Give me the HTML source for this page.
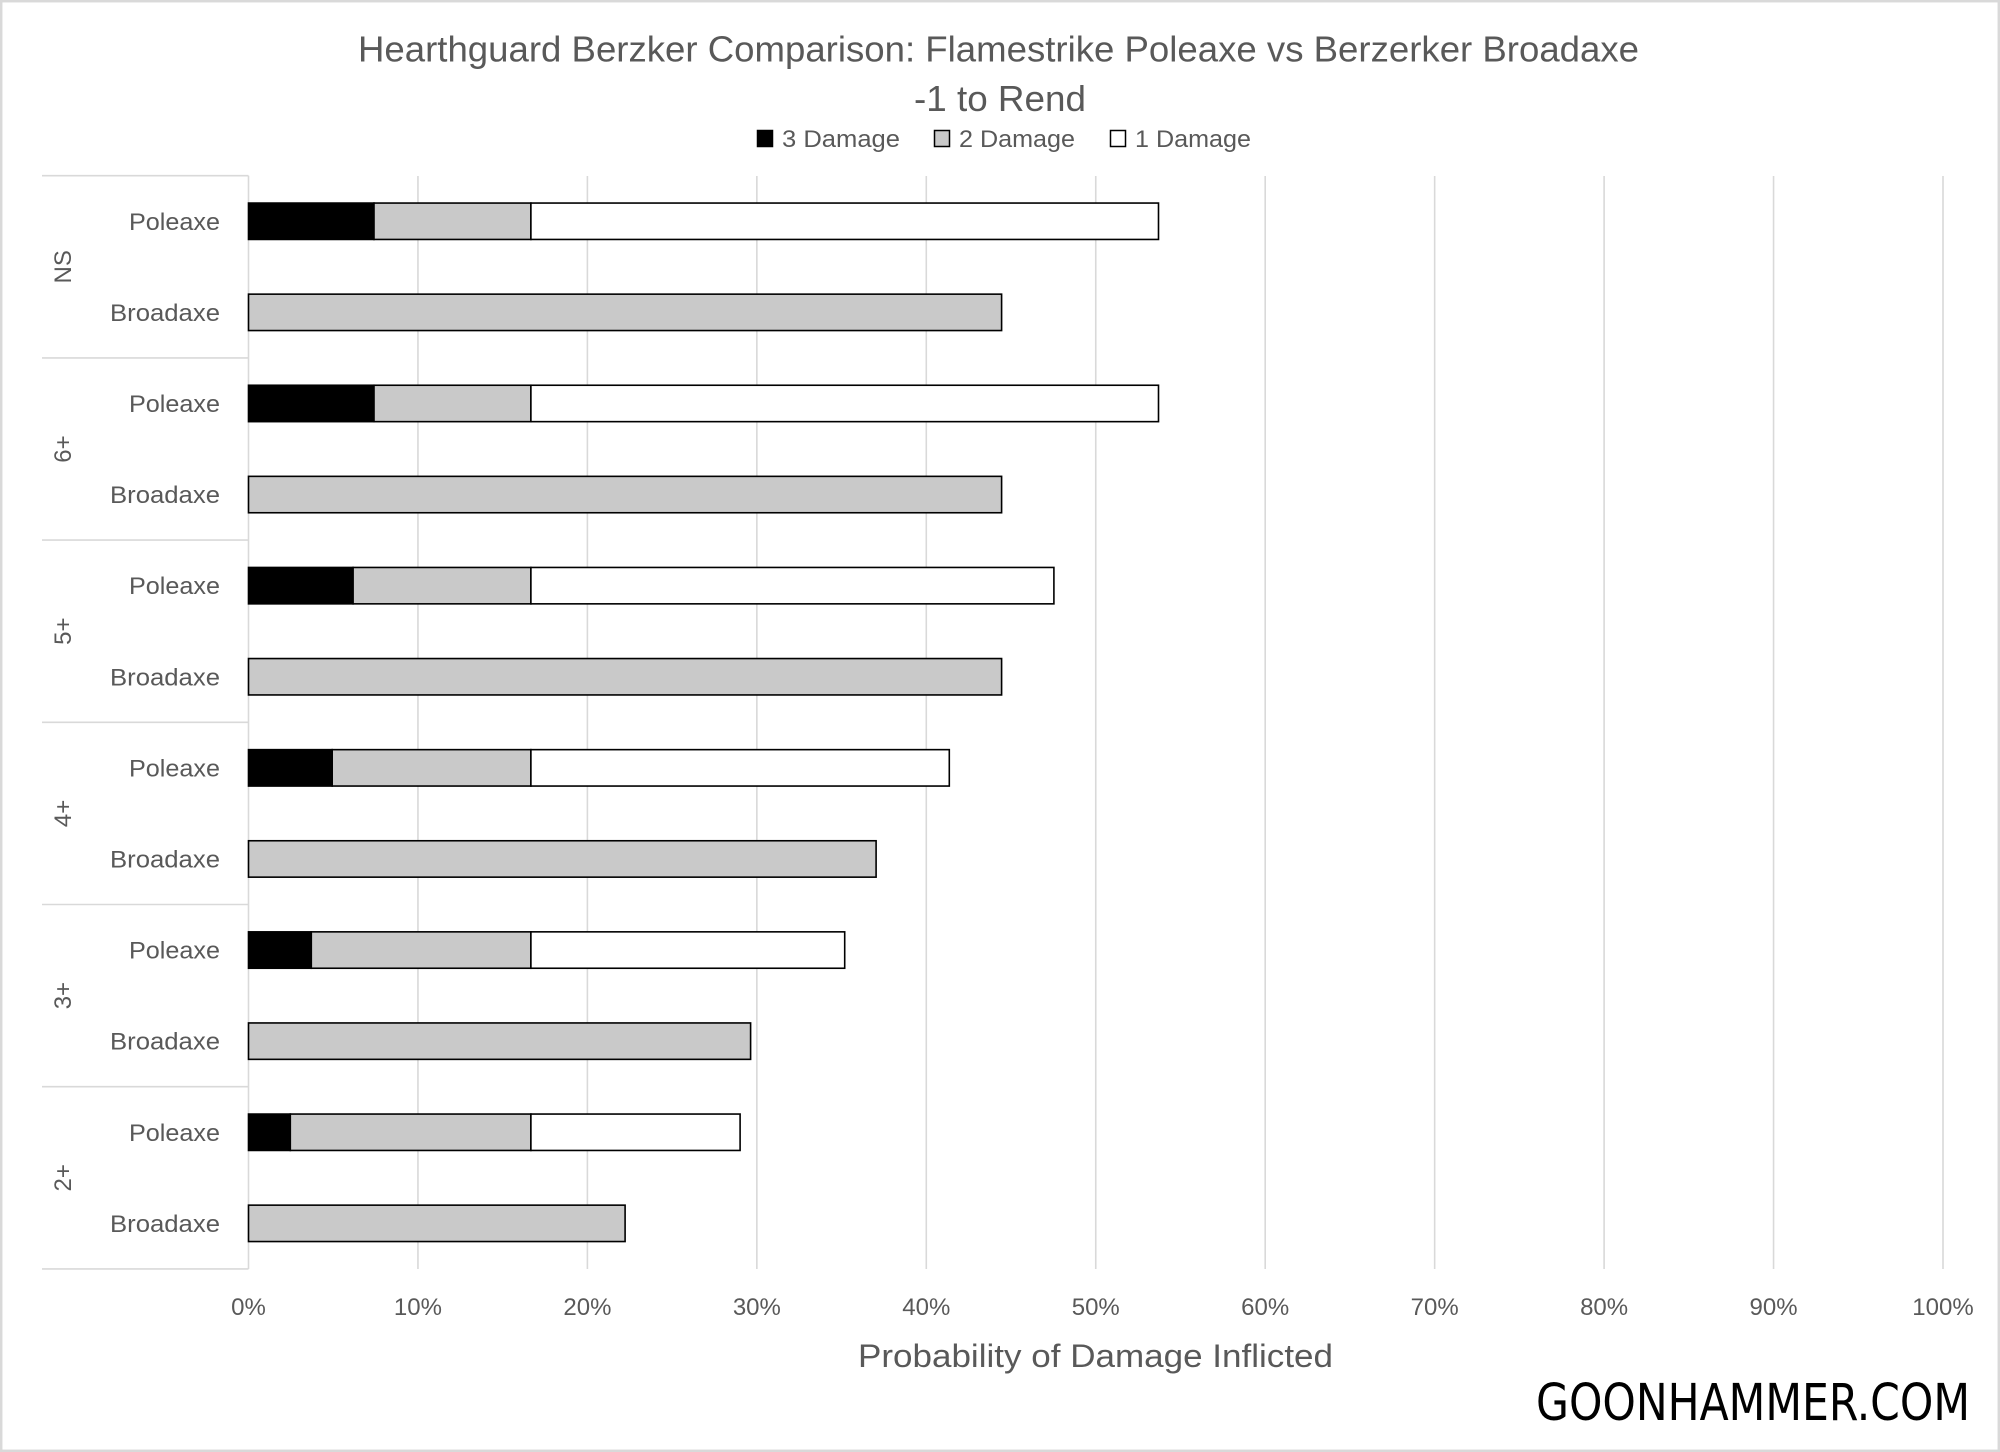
<!DOCTYPE html>
<html><head><meta charset="utf-8"><style>
html,body{margin:0;padding:0;background:#fff;}
svg{display:block;}
text{font-family:"Liberation Sans",sans-serif;fill:#595959;}
</style></head><body>
<svg width="2000" height="1452" viewBox="0 0 2000 1452" xmlns="http://www.w3.org/2000/svg">
<rect x="0" y="0" width="2000" height="1452" fill="#fff"/>
<rect x="1.2" y="1.2" width="1997.6" height="1449.6" fill="none" stroke="#d9d9d9" stroke-width="2.5"/>

<!-- Title -->
<text x="998.5" y="61.7" font-size="36" text-anchor="middle" textLength="1281" lengthAdjust="spacingAndGlyphs">Hearthguard Berzker Comparison: Flamestrike Poleaxe vs Berzerker Broadaxe</text>
<text x="1000" y="111" font-size="36" text-anchor="middle" textLength="172" lengthAdjust="spacingAndGlyphs">-1 to Rend</text>

<!-- Legend -->
<rect x="757.5" y="130.5" width="15" height="16" fill="#000" stroke="#000" stroke-width="1.5"/>
<text x="782" y="147" font-size="24" textLength="118" lengthAdjust="spacingAndGlyphs">3 Damage</text>
<rect x="934.5" y="130.5" width="15" height="16" fill="#c9c9c9" stroke="#000" stroke-width="1.5"/>
<text x="959" y="147" font-size="24" textLength="116" lengthAdjust="spacingAndGlyphs">2 Damage</text>
<rect x="1110.5" y="130.5" width="15" height="16" fill="#fff" stroke="#000" stroke-width="1.5"/>
<text x="1135" y="147" font-size="24" textLength="116" lengthAdjust="spacingAndGlyphs">1 Damage</text>

<!-- Gridlines -->
<g stroke="#d9d9d9" stroke-width="1.6">
<line x1="417.95" y1="176" x2="417.95" y2="1269"/>
<line x1="587.4" y1="176" x2="587.4" y2="1269"/>
<line x1="756.85" y1="176" x2="756.85" y2="1269"/>
<line x1="926.3" y1="176" x2="926.3" y2="1269"/>
<line x1="1095.75" y1="176" x2="1095.75" y2="1269"/>
<line x1="1265.2" y1="176" x2="1265.2" y2="1269"/>
<line x1="1434.65" y1="176" x2="1434.65" y2="1269"/>
<line x1="1604.1" y1="176" x2="1604.1" y2="1269"/>
<line x1="1773.55" y1="176" x2="1773.55" y2="1269"/>
<line x1="1943" y1="176" x2="1943" y2="1269"/>
<!-- axis + category separators -->
<line x1="248.5" y1="175.7" x2="248.5" y2="1269"/>
<line x1="42" y1="175.7" x2="248.5" y2="175.7"/>
<line x1="42" y1="357.9" x2="248.5" y2="357.9"/>
<line x1="42" y1="540.1" x2="248.5" y2="540.1"/>
<line x1="42" y1="722.3" x2="248.5" y2="722.3"/>
<line x1="42" y1="904.5" x2="248.5" y2="904.5"/>
<line x1="42" y1="1086.7" x2="248.5" y2="1086.7"/>
<line x1="42" y1="1268.9" x2="248.5" y2="1268.9"/>
</g>

<!-- Bars -->
<g stroke="#000" stroke-width="1.6">
<!-- NS -->
<rect x="248.5" y="203.05" width="125.5" height="36.4" fill="#000"/>
<rect x="374" y="203.05" width="156.9" height="36.4" fill="#c9c9c9"/>
<rect x="530.9" y="203.05" width="627.6" height="36.4" fill="#fff"/>
<rect x="248.5" y="294.15" width="753.1" height="36.4" fill="#c9c9c9"/>
<!-- 6+ -->
<rect x="248.5" y="385.25" width="125.5" height="36.4" fill="#000"/>
<rect x="374" y="385.25" width="156.9" height="36.4" fill="#c9c9c9"/>
<rect x="530.9" y="385.25" width="627.6" height="36.4" fill="#fff"/>
<rect x="248.5" y="476.35" width="753.1" height="36.4" fill="#c9c9c9"/>
<!-- 5+ -->
<rect x="248.5" y="567.45" width="104.6" height="36.4" fill="#000"/>
<rect x="353.1" y="567.45" width="177.8" height="36.4" fill="#c9c9c9"/>
<rect x="530.9" y="567.45" width="523" height="36.4" fill="#fff"/>
<rect x="248.5" y="658.55" width="753.1" height="36.4" fill="#c9c9c9"/>
<!-- 4+ -->
<rect x="248.5" y="749.65" width="83.7" height="36.4" fill="#000"/>
<rect x="332.2" y="749.65" width="198.7" height="36.4" fill="#c9c9c9"/>
<rect x="530.9" y="749.65" width="418.4" height="36.4" fill="#fff"/>
<rect x="248.5" y="840.75" width="627.6" height="36.4" fill="#c9c9c9"/>
<!-- 3+ -->
<rect x="248.5" y="931.85" width="62.8" height="36.4" fill="#000"/>
<rect x="311.3" y="931.85" width="219.6" height="36.4" fill="#c9c9c9"/>
<rect x="530.9" y="931.85" width="313.8" height="36.4" fill="#fff"/>
<rect x="248.5" y="1022.95" width="502.1" height="36.4" fill="#c9c9c9"/>
<!-- 2+ -->
<rect x="248.5" y="1114.05" width="41.8" height="36.4" fill="#000"/>
<rect x="290.3" y="1114.05" width="240.6" height="36.4" fill="#c9c9c9"/>
<rect x="530.9" y="1114.05" width="209.2" height="36.4" fill="#fff"/>
<rect x="248.5" y="1205.15" width="376.6" height="36.4" fill="#c9c9c9"/>
</g>

<!-- Category labels -->
<g font-size="24" text-anchor="end">
<text x="220" y="229.75" textLength="91" lengthAdjust="spacingAndGlyphs">Poleaxe</text>
<text x="220" y="320.85" textLength="110" lengthAdjust="spacingAndGlyphs">Broadaxe</text>
<text x="220" y="411.95" textLength="91" lengthAdjust="spacingAndGlyphs">Poleaxe</text>
<text x="220" y="503.05" textLength="110" lengthAdjust="spacingAndGlyphs">Broadaxe</text>
<text x="220" y="594.15" textLength="91" lengthAdjust="spacingAndGlyphs">Poleaxe</text>
<text x="220" y="685.25" textLength="110" lengthAdjust="spacingAndGlyphs">Broadaxe</text>
<text x="220" y="776.35" textLength="91" lengthAdjust="spacingAndGlyphs">Poleaxe</text>
<text x="220" y="867.45" textLength="110" lengthAdjust="spacingAndGlyphs">Broadaxe</text>
<text x="220" y="958.55" textLength="91" lengthAdjust="spacingAndGlyphs">Poleaxe</text>
<text x="220" y="1049.65" textLength="110" lengthAdjust="spacingAndGlyphs">Broadaxe</text>
<text x="220" y="1140.75" textLength="91" lengthAdjust="spacingAndGlyphs">Poleaxe</text>
<text x="220" y="1231.85" textLength="110" lengthAdjust="spacingAndGlyphs">Broadaxe</text>
</g>

<!-- Group labels (rotated) -->
<g font-size="24" text-anchor="middle">
<text transform="translate(71,266.8) rotate(-90)">NS</text>
<text transform="translate(71,449) rotate(-90)">6+</text>
<text transform="translate(71,631.2) rotate(-90)">5+</text>
<text transform="translate(71,813.4) rotate(-90)">4+</text>
<text transform="translate(71,995.6) rotate(-90)">3+</text>
<text transform="translate(71,1177.8) rotate(-90)">2+</text>
</g>

<!-- Tick labels -->
<g font-size="24" text-anchor="middle">
<text x="248.5" y="1315">0%</text>
<text x="417.95" y="1315">10%</text>
<text x="587.4" y="1315">20%</text>
<text x="756.85" y="1315">30%</text>
<text x="926.3" y="1315">40%</text>
<text x="1095.75" y="1315">50%</text>
<text x="1265.2" y="1315">60%</text>
<text x="1434.65" y="1315">70%</text>
<text x="1604.1" y="1315">80%</text>
<text x="1773.55" y="1315">90%</text>
<text x="1943" y="1315">100%</text>
</g>

<!-- Axis title -->
<text x="1095.5" y="1367" font-size="32" text-anchor="middle" textLength="475" lengthAdjust="spacingAndGlyphs">Probability of Damage Inflicted</text>

<!-- Watermark -->
<text x="1536" y="1420" font-size="51" style="font-family:'DejaVu Sans Condensed','DejaVu Sans',sans-serif;fill:#000;" textLength="434" lengthAdjust="spacingAndGlyphs">GOONHAMMER.COM</text>
</svg>
</body></html>
